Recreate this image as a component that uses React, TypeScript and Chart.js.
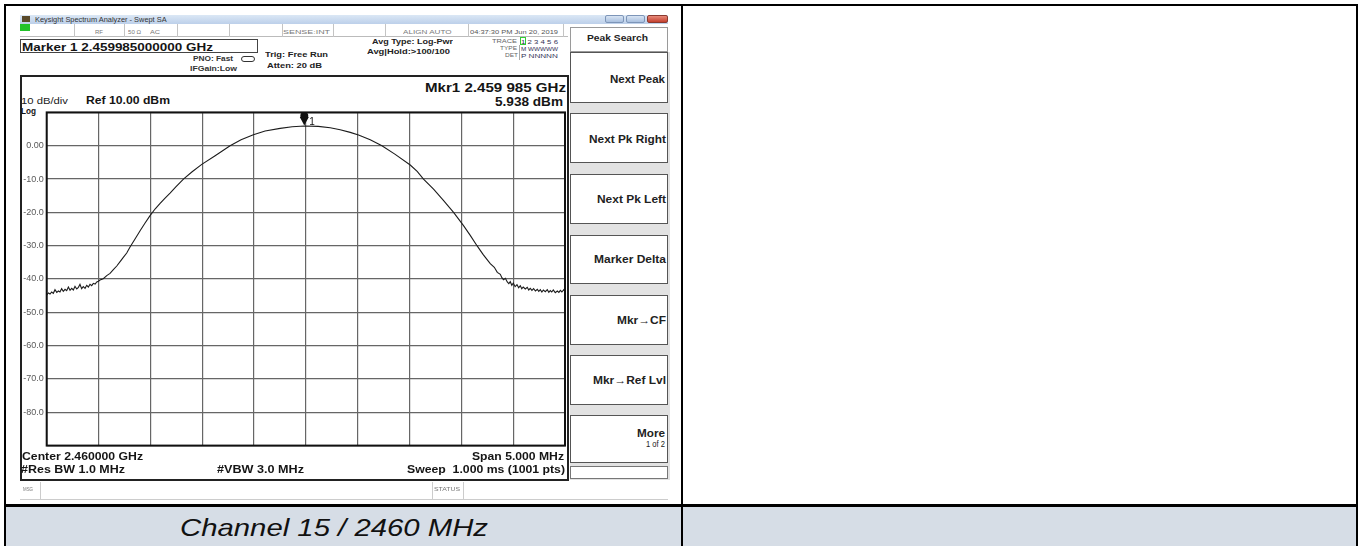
import React, { useEffect, useRef } from "react";
import { Chart, registerables } from "chart.js";

Chart.register(...registerables);

// ---- data ----
const traceFreqMHz = [
  -2.5, -2.484, -2.468, -2.452, -2.436, -2.42, -2.403, -2.387, -2.372, -2.356,
  -2.34, -2.323, -2.307, -2.291, -2.275, -2.259, -2.243, -2.227, -2.21, -2.194,
  -2.179, -2.163, -2.147, -2.13, -2.114, -2.098, -2.082, -2.066, -2.05, -2.033,
  -2.017, -2.001, -1.986, -1.954, -1.921, -1.889, -1.857, -1.824, -1.792, -1.761,
  -1.728, -1.696, -1.648, -1.599, -1.551, -1.503, -1.455, -1.406, -1.358, -1.31,
  -1.252, -1.181, -1.097, -1.004, -0.875, -0.731, -0.625, -0.506, -0.393, -0.248,
  -0.132, -0.015, 0.119, 0.235, 0.331, 0.428, 0.508, 0.621, 0.734, 0.862,
  1.007, 1.074, 1.135, 1.232, 1.325, 1.425, 1.521, 1.586, 1.651, 1.711,
  1.779, 1.818, 1.847, 1.876, 1.891, 1.907, 1.925, 1.943, 1.958, 1.972,
  1.987, 2.001, 2.019, 2.037, 2.053, 2.069, 2.083, 2.097, 2.117, 2.136,
  2.15, 2.165, 2.181, 2.197, 2.215, 2.233, 2.247, 2.262, 2.277, 2.291,
  2.31, 2.329, 2.344, 2.358, 2.372, 2.387, 2.406, 2.426, 2.441, 2.455,
  2.47, 2.488, 2.5,
];
const traceLevelDbm = [
  -44.8, -44.2, -44.5, -43.9, -44.3, -43.2, -44.0, -43.6, -43.9, -42.9,
  -43.7, -43.1, -43.5, -42.4, -43.4, -42.8, -43.3, -42.2, -43.0, -42.5,
  -41.6, -42.9, -42.3, -42.8, -41.9, -42.4, -41.6, -42.0, -41.3, -41.5,
  -40.9, -40.7, -40.3, -39.9, -39.0, -38.3, -37.2, -36.1, -34.8, -33.5,
  -32.2, -30.4, -28.0, -25.5, -23.2, -21.0, -19.0, -17.3, -15.7, -14.2,
  -12.3, -10.0, -7.8, -5.6, -3.0, 0.0, 1.8, 3.3, 4.4, 5.2,
  5.7, 5.938, 5.8, 5.4, 4.8, 4.0, 3.2, 1.8, 0.0, -2.6,
  -5.8, -7.7, -10.0, -13.0, -16.3, -20.0, -24.0, -26.9, -30.0, -32.7,
  -35.4, -36.5, -38.0, -38.6, -39.6, -40.2, -39.8, -40.9, -41.4, -40.8,
  -41.9, -41.2, -42.3, -41.7, -42.6, -42.0, -42.9, -42.4, -43.0, -42.5,
  -43.3, -42.8, -43.4, -42.9, -43.6, -43.1, -43.7, -43.2, -43.9, -43.3,
  -43.8, -43.2, -44.0, -43.5, -43.9, -43.3, -44.1, -43.6, -44.0, -43.4,
  -43.9, -43.2, -43.8,
];
const markerFreqMHz = -0.015;
const markerLevelDbm = 5.938;
const markerLabel = "1";
const xGridMHz = [-2.5, -2.0, -1.5, -1.0, -0.5, 0, 0.5, 1.0, 1.5, 2.0, 2.5];
const yTickValues = [10, 0, -10, -20, -30, -40, -50, -60, -70, -80, -90];
const yTickLabels = ["", "0.00", "-10.0", "-20.0", "-30.0", "-40.0", "-50.0", "-60.0", "-70.0", "-80.0", ""];

const FONT = '"Liberation Sans", Arial, "DejaVu Sans", sans-serif';

let mctx: CanvasRenderingContext2D | null = null;
function natWidth(text: string, font: string) {
  if (!mctx) mctx = document.createElement("canvas").getContext("2d");
  mctx!.font = font;
  return mctx!.measureText(text).width || 1;
}

type TP = {
  x: number; y: number; w: number; t: string; s: number;
  b?: boolean; i?: boolean; c?: string;
};
function T({ x, y, w, t, s, b, i, c }: TP) {
  const font = `${i ? "italic " : ""}${b ? "bold " : ""}${s}px ${FONT}`;
  const k = w / natWidth(t, font);
  return (
    <div
      style={{
        position: "absolute",
        left: x,
        top: y - 0.8465 * s,
        fontFamily: FONT,
        fontSize: s,
        fontWeight: b ? "bold" : "normal",
        fontStyle: i ? "italic" : "normal",
        lineHeight: `${s}px`,
        whiteSpace: "pre",
        color: c || "#151515",
        transform: `scaleX(${k})`,
        transformOrigin: "0 0",
      }}
    >
      {t}
    </div>
  );
}

function R(props: { x: number; y: number; w: number; h: number; style?: React.CSSProperties }) {
  return (
    <div
      style={{
        position: "absolute",
        left: props.x,
        top: props.y,
        width: props.w,
        height: props.h,
        boxSizing: "border-box",
        ...props.style,
      }}
    />
  );
}

function TraceChart() {
  const ref = useRef<HTMLCanvasElement>(null);
  useEffect(() => {
    const framePlugin = {
      id: "frame",
      afterDraw(chart: any) {
        const { ctx, chartArea: a } = chart;
        ctx.save();
        ctx.strokeStyle = "#111";
        ctx.lineWidth = 2;
        ctx.strokeRect(a.left, a.top, a.right - a.left, a.bottom - a.top);
        ctx.restore();
      },
    };
    const markerPlugin = {
      id: "marker",
      afterDraw(chart: any) {
        const { ctx } = chart;
        const x = chart.scales.x.getPixelForValue(markerFreqMHz);
        const y = chart.scales.y.getPixelForValue(markerLevelDbm);
        ctx.save();
        ctx.fillStyle = "#111";
        ctx.beginPath();
        ctx.moveTo(x - 4.5, y - 9);
        ctx.lineTo(x + 4.5, y - 9);
        ctx.lineTo(x, y - 0.5);
        ctx.closePath();
        ctx.fill();
        ctx.beginPath();
        ctx.arc(x, y - 10, 4, 0, Math.PI * 2);
        ctx.fill();
        ctx.font = `10px ${FONT}`;
        ctx.textBaseline = "alphabetic";
        ctx.fillText(markerLabel, x + 5, y - 1);
        ctx.restore();
      },
    };
    const chart = new Chart(ref.current!, {
      type: "line",
      data: {
        datasets: [
          {
            data: traceFreqMHz.map((f, i) => ({ x: f, y: traceLevelDbm[i] })),
            borderColor: "#1c1c1c",
            borderWidth: 1.1,
            pointRadius: 0,
            tension: 0,
          },
        ],
      },
      options: {
        animation: false,
        responsive: false,
        maintainAspectRatio: false,
        events: [],
        layout: { padding: { top: 8, right: 5, bottom: 8, left: 0 } },
        plugins: { legend: { display: false }, tooltip: { enabled: false } },
        scales: {
          x: {
            type: "linear",
            min: -2.5,
            max: 2.5,
            afterBuildTicks: (s: any) => {
              s.ticks = xGridMHz.map((v) => ({ value: v }));
            },
            ticks: { display: false },
            grid: { color: "#666", lineWidth: 1.2, drawTicks: false },
            border: { display: false },
            afterFit: (s: any) => {
              s.height = 0;
            },
          },
          y: {
            type: "linear",
            min: -90,
            max: 10,
            afterBuildTicks: (s: any) => {
              s.ticks = yTickValues.map((v) => ({ value: v }));
            },
            ticks: {
              callback: (v: any) => {
                const i = yTickValues.indexOf(Number(v));
                return i >= 0 ? yTickLabels[i] : "";
              },
              font: { size: 9, family: FONT },
              color: "#5a5a5a",
              padding: 3,
            },
            grid: { color: "#666", lineWidth: 1.2, drawTicks: false },
            border: { display: false },
            afterFit: (s: any) => {
              s.width = 26.7;
            },
          },
        },
      } as any,
      plugins: [framePlugin, markerPlugin],
    });
    return () => chart.destroy();
  }, []);
  return (
    <div style={{ position: "absolute", left: 20, top: 104, width: 550, height: 350 }}>
      <canvas ref={ref} width={550} height={350} style={{ width: 550, height: 350 }} />
    </div>
  );
}

const statusDividers = [74, 124, 177, 229, 282, 333, 385, 468, 563];
const softkeys: { t: string; x: number; w: number; y: number; top: number; h: number }[] = [
  { t: "Next Peak", x: 610, w: 55, y: 83, top: 52, h: 51 },
  { t: "Next Pk Right", x: 589, w: 77, y: 143.3, top: 113, h: 50 },
  { t: "Next Pk Left", x: 597, w: 69, y: 203.3, top: 174, h: 50 },
  { t: "Marker Delta", x: 594, w: 72, y: 263.3, top: 235, h: 49 },
  { t: "Mkr\u2192CF", x: 617, w: 49, y: 324, top: 295, h: 50 },
  { t: "Mkr\u2192Ref Lvl", x: 593, w: 73, y: 384.3, top: 355, h: 50 },
  { t: "More", x: 637, w: 28, y: 436.7, top: 415, h: 48 },
];

export default function App() {
  useEffect(() => {
    document.body.style.margin = "0";
  }, []);
  return (
    <div
      style={{
        position: "absolute",
        left: 0,
        top: 0,
        width: 1360,
        height: 546,
        overflow: "hidden",
        background: "#fff",
        fontFamily: FONT,
      }}
    >
      {/* caption row background */}
      <R x={6} y={507} w={675} h={39} style={{ background: "#d6dde6" }} />
      <R x={683} y={507} w={673} h={39} style={{ background: "#d6dde6" }} />

      {/* window title bar */}
      <R x={20} y={15} w={648} h={9} style={{ background: "linear-gradient(#dbe7f5,#bcd0ea)" }} />
      <R x={22} y={16} w={8} h={6} style={{ background: "#5a4a2a" }} />
      <T x={35} y={21.5} w={132} t="Keysight Spectrum Analyzer - Swept SA" s={7} c="#333" />
      <R x={605} y={15} w={19} h={8} style={{ background: "linear-gradient(#d8e4f3,#a9c0df)", border: "1px solid #7d95b8", borderRadius: 2 }} />
      <R x={626} y={15} w={19} h={8} style={{ background: "linear-gradient(#d8e4f3,#a9c0df)", border: "1px solid #7d95b8", borderRadius: 2 }} />
      <R x={647} y={15} w={21} h={8} style={{ background: "linear-gradient(#e88a7a,#c4402f)", border: "1px solid #8a3a30", borderRadius: 2 }} />

      {/* status row */}
      <R x={20} y={24} w={548} h={13} style={{ borderBottom: "1px solid #bbb" }} />
      <R x={20} y={24} w={10} h={7} style={{ background: "#22c22a" }} />
      {statusDividers.map((x) => (
        <R key={x} x={x} y={24} w={1} h={13} style={{ background: "#c4c4c4" }} />
      ))}
      <T x={95} y={34} w={8} t="RF" s={6} c="#777" />
      <T x={128} y={34} w={13} t={"50 \u03a9"} s={6} c="#777" />
      <T x={150} y={34} w={10} t="AC" s={6} c="#777" />
      <T x={283} y={34} w={47} t="SENSE:INT" s={6} c="#777" />
      <T x={403} y={34} w={49} t="ALIGN AUTO" s={6} c="#777" />
      <T x={470} y={34} w={88} t="04:37:30 PM Jun 20, 2019" s={6} c="#555" />

      {/* marker line */}
      <R x={20} y={39} w={238} h={14} style={{ border: "1px solid #444" }} />
      <T x={22} y={50.5} w={191} t="Marker 1 2.459985000000 GHz" s={10.5} b />
      <T x={193} y={61} w={40} t="PNO: Fast" s={7.5} b c="#333" />
      <T x={190} y={71} w={47} t="IFGain:Low" s={7.5} b c="#333" />
      <R x={241} y={56} w={14} h={6} style={{ border: "1px solid #333", borderRadius: 3 }} />
      <T x={265} y={57.5} w={63} t="Trig: Free Run" s={8} b c="#222" />
      <T x={267} y={69} w={55} t="Atten: 20 dB" s={8} b c="#222" />
      <T x={372} y={45} w={81} t="Avg Type: Log-Pwr" s={8} b c="#222" />
      <T x={367} y={55} w={83} t="Avg|Hold:>100/100" s={8} b c="#222" />

      {/* trace table */}
      <T x={492} y={44} w={25} t="TRACE" s={5.5} c="#666" />
      <R x={520} y={37} w={6} h={8} style={{ border: "1px solid #3c3" }} />
      <T x={521} y={44} w={37} t="1 2 3 4 5 6" s={6} c="#335" />
      <T x={500} y={51} w={17} t="TYPE" s={5.5} c="#666" />
      <T x={521} y={51} w={37} t="M WWWWW" s={6} c="#335" />
      <T x={505} y={58} w={13} t="DET" s={5.5} c="#666" />
      <T x={521} y={58} w={37} t="P NNNNN" s={6} c="#335" />
      <R x={519} y={45} w={1} h={15} style={{ background: "#aaa" }} />

      {/* softkey panel */}
      <R x={570} y={27} w={98} h={25} style={{ border: "1px solid #9a9a9a" }} />
      <T x={587} y={42} w={61} t="Peak Search" s={9} b c="#222" />
      <R x={570} y={52} w={100} h={428} style={{ background: "#e2e2e2" }} />
      {softkeys.map((k) => (
        <R key={k.t} x={570} y={k.top} w={98} h={k.h} style={{ background: "#fff", border: "1.5px solid #555" }} />
      ))}
      <R x={570} y={466} w={98} h={13} style={{ background: "#fff", border: "1px solid #777" }} />
      {softkeys.map((k) => (
        <T key={k.t + "t"} x={k.x} y={k.y} w={k.w} t={k.t} s={10.5} b c="#222" />
      ))}
      <T x={646} y={447.7} w={19} t="1 of 2" s={9} c="#222" />

      {/* display frame */}
      <R x={20} y={75} w={549} h={406} style={{ border: "2px solid #222" }} />
      <T x={425} y={92.5} w={141} t="Mkr1 2.459 985 GHz" s={13.5} b />
      <T x={495} y={106.5} w={68} t="5.938 dBm" s={13.5} b />
      <T x={21} y={104} w={47} t="10 dB/div" s={8.5} c="#222" />
      <T x={86} y={104} w={84} t="Ref 10.00 dBm" s={11} b />
      <T x={21} y={114} w={15} t="Log" s={8.5} b />
      <TraceChart />
      <T x={21.5} y={460} w={121} t="Center 2.460000 GHz" s={11} b />
      <T x={21} y={473.5} w={104} t="#Res BW 1.0 MHz" s={11} b />
      <T x={216.7} y={473.5} w={87} t="#VBW 3.0 MHz" s={11} b />
      <T x={471.7} y={460} w={92} t="Span 5.000 MHz" s={11} b />
      <T x={406.7} y={473.5} w={158} t="Sweep  1.000 ms (1001 pts)" s={11} b />

      {/* message row */}
      <R x={20} y={499} w={648} h={1} style={{ background: "#ccc" }} />
      <R x={40} y={482} w={1} h={17} style={{ background: "#ccc" }} />
      <R x={432} y={482} w={1} h={17} style={{ background: "#ccc" }} />
      <R x={463} y={482} w={1} h={17} style={{ background: "#ccc" }} />
      <T x={23} y={492} w={10} t="MSG" s={5.5} c="#777" />
      <T x={434} y={492} w={26} t="STATUS" s={5.5} c="#777" />

      {/* table borders */}
      <R x={4} y={4} w={1354} h={2} style={{ background: "#000" }} />
      <R x={4} y={4} w={2} h={542} style={{ background: "#000" }} />
      <R x={681} y={4} w={2} h={542} style={{ background: "#000" }} />
      <R x={1356} y={4} w={1.5} h={542} style={{ background: "#000" }} />
      <R x={4} y={504} w={1354} h={3} style={{ background: "#000" }} />

      {/* caption */}
      <T x={180} y={536} w={308} t="Channel 15 / 2460 MHz" s={24} i c="#111" />
    </div>
  );
}
